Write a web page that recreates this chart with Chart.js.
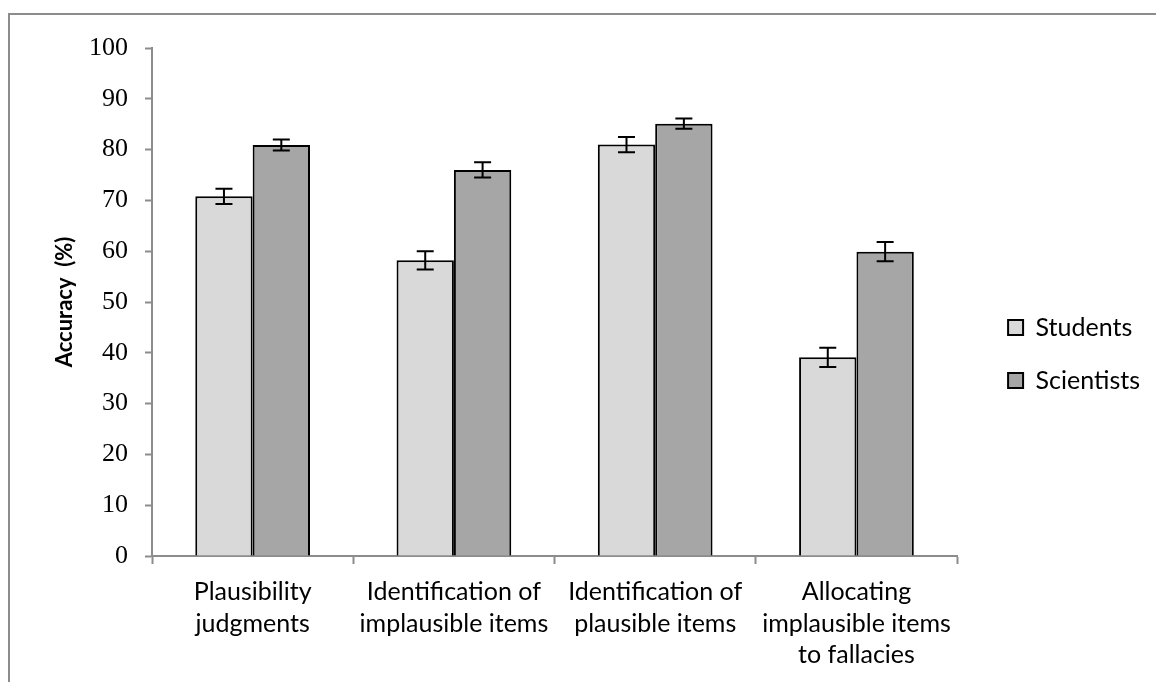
<!DOCTYPE html>
<html>
<head>
<meta charset="utf-8">
<script src="https://cdn.jsdelivr.net/npm/chart.js@4.4.0/dist/chart.umd.min.js"></script>
<style>
  html, body { margin: 0; padding: 0; background: #ffffff; }
  #wrap { position: relative; width: 1156px; height: 682px; overflow: hidden; background: #fff; }
  #frame { position: absolute; left: 8px; top: 13px; width: 1160px; height: 680px;
           border-top: 2px solid #8c8c8c; border-left: 2px solid #8c8c8c; box-sizing: border-box; }
  #c { position: absolute; left: 0; top: 0; }
</style>
</head>
<body>
<div id="wrap">
  <div id="frame"></div>
  <canvas id="c" width="1156" height="682"></canvas>
</div>
<script>
const categories = [
  ["Plausibility", "judgments"],
  ["Identification of", "implausible items"],
  ["Identification of", "plausible items"],
  ["Allocating", "implausible items", "to fallacies"]
];
const seriesNames = ["Students", "Scientists"];
const studentsValues = [70.8, 58.2, 81.0, 39.1];
const scientistsValues = [80.9, 76.0, 85.1, 59.9];
const studentsErrors = [1.5, 1.8, 1.5, 1.9];
const scientistsErrors = [1.1, 1.5, 1.0, 1.9];
const yTicks = [0, 10, 20, 30, 40, 50, 60, 70, 80, 90, 100];

const errorBars = {
  id: 'errorBars',
  afterDatasetsDraw(chart) {
    const ctx = chart.ctx;
    const yScale = chart.scales.y;
    chart.data.datasets.forEach((ds, di) => {
      const meta = chart.getDatasetMeta(di);
      meta.data.forEach((bar, i) => {
        const v = ds.data[i], e = ds.errors[i];
        const yT = yScale.getPixelForValue(v + e);
        const yB = yScale.getPixelForValue(v - e);
        const cap = 8.5;
        ctx.save();
        ctx.strokeStyle = '#000';
        ctx.lineWidth = 2;
        ctx.beginPath();
        ctx.moveTo(bar.x, yT); ctx.lineTo(bar.x, yB);
        ctx.moveTo(bar.x - cap, yT); ctx.lineTo(bar.x + cap, yT);
        ctx.moveTo(bar.x - cap, yB); ctx.lineTo(bar.x + cap, yB);
        ctx.stroke();
        ctx.restore();
      });
    });
  }
};

// nudge the legend a little right of and above its default place, as in the original
const legendShift = {
  id: 'legendShift',
  afterLayout(chart) {
    const L = chart.legend;
    if (!L) return;
    const dx = 23, dy = -11;
    L.left += dx; L.right += dx;
    L.top += dy; L.bottom += dy;
    if (L.legendHitBoxes) L.legendHitBoxes.forEach(h => { h.left += dx; h.top += dy; });
  }
};

new Chart(document.getElementById('c'), {
  type: 'bar',
  data: {
    labels: categories,
    datasets: [
      { label: seriesNames[0], data: studentsValues, errors: studentsErrors,
        backgroundColor: '#d9d9d9', borderColor: '#000', borderWidth: 2 },
      { label: seriesNames[1], data: scientistsValues, errors: scientistsErrors,
        backgroundColor: '#a6a6a6', borderColor: '#000', borderWidth: 2 }
    ]
  },
  options: {
    responsive: false,
    animation: false,
    events: [],
    layout: { padding: { top: 48, bottom: 0, left: 0, right: 29 } },
    datasets: { bar: { categoryPercentage: 0.57, barPercentage: 1.0 } },
    plugins: {
      tooltip: { enabled: false },
      legend: {
        position: 'right',
        align: 'center',
        labels: {
          boxWidth: 15, boxHeight: 15, padding: 28,
          color: '#000',
          font: { family: 'Lato', size: 25 }
        }
      }
    },
    scales: {
      x: {
        afterFit(scale) { scale.height = 682 - 556; },
        grid: { offset: true, drawOnChartArea: false, drawTicks: true, tickLength: 8, tickColor: '#8c8c8c', tickWidth: 2 },
        border: { display: true, color: '#8c8c8c', width: 2 },
        ticks: { color: '#000', font: { family: 'Lato', size: 25, lineHeight: 1.27 }, padding: 12, maxRotation: 0, autoSkip: false }
      },
      y: {
        min: 0, max: 100,
        afterBuildTicks(scale) { scale.ticks = yTicks.map(v => ({ value: v })); },
        afterFit(scale) { scale.width = 152; },
        grid: { drawOnChartArea: false, drawTicks: true, tickLength: 7, tickColor: '#8c8c8c', tickWidth: 2 },
        border: { display: true, color: '#8c8c8c', width: 2 },
        ticks: { color: '#000', font: { family: 'Liberation Serif', size: 26 }, padding: 17 },
        title: { display: true, text: 'Accuracy  (%)', color: '#000',
                 font: { family: 'Lato', size: 22, weight: 'bold' }, padding: { top: 52, bottom: 0 } }
      }
    }
  },
  plugins: [errorBars, legendShift]
});
</script>
</body>
</html>
